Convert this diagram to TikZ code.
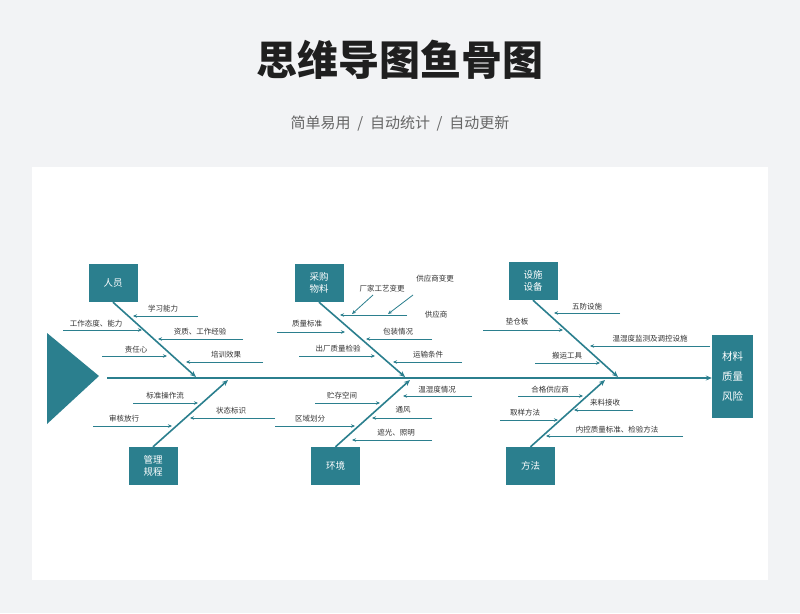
\documentclass[tikz,border=0pt]{standalone}
\usepackage{fontspec}
\setmainfont{Noto Sans CJK SC}
\usetikzlibrary{arrows.meta}
\definecolor{teal}{HTML}{2B7F8E}
\definecolor{page}{HTML}{F2F3F5}

\tikzset{
	cause/.style={draw=none, fill=teal, text=white, font=\fontsize{9.5}{12.5}\selectfont,
		minimum width=49pt, minimum height=38pt, align=center, inner sep=1pt},
	bone/.style={teal, line width=1.6pt, -{Stealth[length=6pt,width=5pt]}},
	twig/.style={teal, line width=0.8pt, -{Stealth[length=4pt,width=3.5pt]}},
	lbl/.style={font=\fontsize{7.5}{9}\selectfont, text=black!80, inner sep=0pt}
}

\begin{document}
\begin{tikzpicture}[x=1pt,y=-1pt]
	\fill[page] (0,0) rectangle (800,613);
	\useasboundingbox (0,0) rectangle (800,613);
	\fill[white] (32,167) rectangle (768,580);
	\node (title) at (400,60) [font=\fontsize{41}{46}\selectfont\bfseries, text=black!88] {思维导图鱼骨图};
	\node (sub) at (400,124) [font=\fontsize{15}{18}\selectfont, text=black!60] {简单易用 \ / \ 自动统计 \ / \ 自动更新};

	% head and spine
	\fill[teal] (47,333) -- (99,376) -- (47,424) -- cycle;
	\node (risk) at (732.5,376.5) [cause, minimum width=41pt, minimum height=83pt,
		font=\fontsize{10.5}{20}\selectfont] {材料\\质量\\风险};
	\coordinate (s0) at (107,378);
	\draw[bone] (s0) -- (risk.west |- s0);

	% cause boxes
	\node (ren) at (113,283) [cause] {人员};
	\node (cai) at (319,283) [cause] {采购\\物料};
	\node (she) at (533,281) [cause] {设施\\设备};
	\node (gua) at (153,466) [cause] {管理\\规程};
	\node (huan) at (335.5,466) [cause] {环境};
	\node (fang) at (530.5,466) [cause] {方法};

	\coordinate (e1) at (196,377);
	\coordinate (e2) at (405,377);
	\coordinate (e3) at (618,377);
	\coordinate (e4) at (228,380);
	\coordinate (e5) at (410,380);
	\coordinate (e6) at (605,380);
	\draw[bone] (ren.south) -- (e1);
	\draw[bone] (cai.south) -- (e2);
	\draw[bone] (she.south) -- (e3);
	\draw[bone] (gua.north) -- (e4);
	\draw[bone] (huan.north) -- (e5);
	\draw[bone] (fang.north) -- (e6);

	% small causes: from, to, label position, text
	\foreach \xa/\xb/\yy/\tx/\ty/\txt in {
		198/133/316/163/309/学习能力, 63/142/330/96/324/工作态度、能力,
		243/158/339/200/332/资质、工作经验, 102/167/356/136/350/责任心,
		263/186/362/226/355/培训效果,
		133/198/403/165/396/标准操作流, 93/172/426/124/419/审核放行,
		275/190/418/231/411/状态标识,
		277/345/332/307/324/质量标准, 432/366/339/398/332/包装情况,
		299/375/356/338/349/出厂质量检验, 462/393/362/428/355/运输条件,
		472/403/396/437/390/温湿度情况, 315/380/403/342/396/贮存空间,
		432/372/418/403/410/通风, 275/355/426/310/419/区域划分,
		432/352/440/396/433/遮光、照明,
		620/554/313/587/307/五防设施, 483/563/330/517/322/垫仓板,
		710/590/346/650/339/温湿度监测及调控设施, 535/600/363/567/356/搬运工具,
		518/583/396/550/390/合格供应商, 633/574/410/605/403/来料接收,
		500/558/420/525/413/取样方法, 683/546/436/617/430/内控质量标准、检验方法}
	{
		\coordinate (a) at (\xa,\yy);
		\coordinate (b) at (\xb,\yy);
		\draw[twig] (a) -- (b);
		\node[lbl] at (\tx,\ty) {\txt};
	}

	% supplier sub-branch
	\coordinate (g1) at (407,315);
	\coordinate (g2) at (340,315);
	\draw[twig] (g1) -- (g2);
	\node (gys) at (436,315) [lbl] {供应商};
	\node (cj) at (382,289) [lbl] {厂家工艺变更};
	\node (gb) at (435,279) [lbl] {供应商变更};
	\coordinate (c1) at (373,295);
	\coordinate (c2) at (352,314);
	\coordinate (d1) at (413,295);
	\coordinate (d2) at (388,314);
	\draw[twig] (c1) -- (c2);
	\draw[twig] (d1) -- (d2);
\end{tikzpicture}
\end{document}
